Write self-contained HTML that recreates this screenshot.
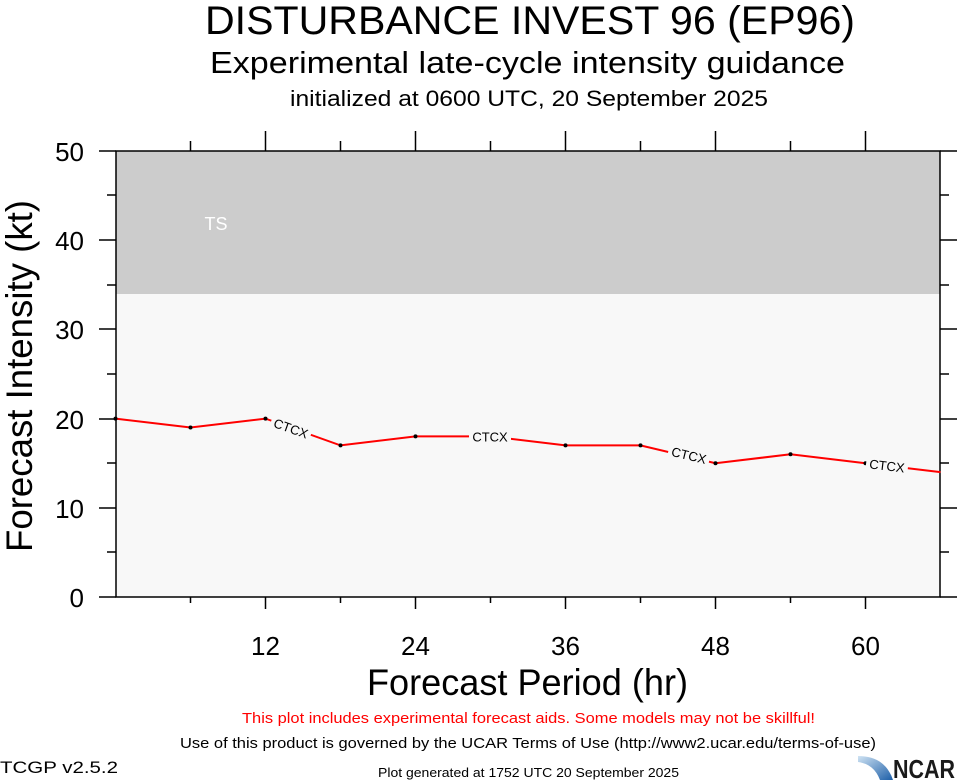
<!DOCTYPE html>
<html><head><style>body{margin:0;background:#fff}svg{display:block}</style></head><body>
<svg width="957" height="780" viewBox="0 0 957 780" xmlns="http://www.w3.org/2000/svg" font-family="Liberation Sans, Arial, sans-serif">
<text x="205" y="34" font-size="40" textLength="650" lengthAdjust="spacingAndGlyphs">DISTURBANCE INVEST 96 (EP96)</text>
<text x="210" y="73" font-size="31" textLength="635" lengthAdjust="spacingAndGlyphs">Experimental late-cycle intensity guidance</text>
<text x="290" y="106" font-size="22" textLength="478" lengthAdjust="spacingAndGlyphs">initialized at 0600 UTC, 20 September 2025</text>
<rect x="116" y="151" width="824" height="446" fill="#f8f8f8"/>
<rect x="116" y="151" width="824" height="143" fill="#cccccc"/>
<text x="216" y="230" font-size="18" fill="#fff" text-anchor="middle">TS</text>
<g stroke="#000" stroke-width="1.5" fill="none">
<rect x="116" y="151" width="824" height="446"/>
<path d="M99 597H116M99 508H116M99 419H116M99 329H116M99 240H116M99 151H116M107 552H116M107 463H116M107 374H116M107 285H116M107 195H116"/>
<path d="M940 597H957M940 508H957M940 419H957M940 329H957M940 240H957M940 151H957M940 552H949M940 463H949M940 374H949M940 285H949M940 195H949"/>
<path d="M265.5 597V609M415.5 597V609M565.5 597V609M715.5 597V609M865.5 597V609M190.5 597V603M340.5 597V603M490.5 597V603M640.5 597V603M790.5 597V603"/>
<path d="M265.5 151V131M415.5 151V131M565.5 151V131M715.5 151V131M865.5 151V131M190.5 151V141M340.5 151V141M490.5 151V141M640.5 151V141M790.5 151V141"/>
</g>
<g font-size="26" text-anchor="end">
<text x="84" y="607">0</text><text x="84" y="518">10</text><text x="84" y="429">20</text><text x="84" y="339">30</text><text x="84" y="250">40</text><text x="84" y="161">50</text>
</g>
<g font-size="26" text-anchor="middle">
<text x="265.5" y="655">12</text><text x="415.5" y="655">24</text><text x="565.5" y="655">36</text><text x="715.5" y="655">48</text><text x="865.5" y="655">60</text>
</g>
<text x="367" y="695" font-size="37" textLength="321" lengthAdjust="spacingAndGlyphs">Forecast Period (hr)</text>
<text transform="translate(32,552) rotate(-90)" font-size="37" textLength="352" lengthAdjust="spacingAndGlyphs">Forecast Intensity (kt)</text>
<polyline fill="none" stroke="#ff0000" stroke-width="2" points="115.5,418.6 190.5,427.5 265.5,418.6 340.5,445.4 415.5,436.4 490.5,436.4 565.5,445.4 640.5,445.4 715.5,463.2 790.5,454.3 865.5,463.2 940.5,472.1"/>
<g fill="#000">
<circle cx="115.5" cy="418.6" r="2"/><circle cx="190.5" cy="427.5" r="2"/><circle cx="265.5" cy="418.6" r="2"/><circle cx="340.5" cy="445.4" r="2"/><circle cx="415.5" cy="436.4" r="2"/><circle cx="490.5" cy="436.4" r="2"/><circle cx="565.5" cy="445.4" r="2"/><circle cx="640.5" cy="445.4" r="2"/><circle cx="715.5" cy="463.2" r="2"/><circle cx="790.5" cy="454.3" r="2"/><circle cx="865.5" cy="463.2" r="2"/>
</g>
<g font-size="13" text-anchor="middle">
<g transform="translate(291,428) rotate(19.7)"><rect x="-21" y="-7" width="42" height="14" fill="#f8f8f8"/><text y="5">CTCX</text></g>
<g transform="translate(490,436.4)"><rect x="-21" y="-7" width="42" height="14" fill="#f8f8f8"/><text y="5">CTCX</text></g>
<g transform="translate(689,455) rotate(13.4)"><rect x="-21" y="-7" width="42" height="14" fill="#f8f8f8"/><text y="5">CTCX</text></g>
<g transform="translate(887,465.5) rotate(6.8)"><rect x="-21" y="-7" width="42" height="14" fill="#f8f8f8"/><text y="5">CTCX</text></g>
</g>
<text x="242" y="723" font-size="15" fill="#ff0000" textLength="573" lengthAdjust="spacingAndGlyphs">This plot includes experimental forecast aids. Some models may not be skillful!</text>
<text x="180" y="748" font-size="15" textLength="696" lengthAdjust="spacingAndGlyphs">Use of this product is governed by the UCAR Terms of Use (http://www2.ucar.edu/terms-of-use)</text>
<text x="0" y="773" font-size="17" textLength="118" lengthAdjust="spacingAndGlyphs">TCGP v2.5.2</text>
<text x="378" y="777" font-size="13" textLength="301" lengthAdjust="spacingAndGlyphs">Plot generated at 1752 UTC   20 September 2025</text>
<defs><linearGradient id="g" x1="0" y1="0" x2="1" y2="1"><stop offset="0" stop-color="#cfe3f3"/><stop offset="1" stop-color="#1d5fa8"/></linearGradient></defs>
<path d="M858 756 Q885 756 893 780 L880 780 Q874 764 858 762Z" fill="url(#g)"/>
<text x="893" y="778" font-size="26" font-weight="bold" fill="#1a1a1a" textLength="62" lengthAdjust="spacingAndGlyphs">NCAR</text>
</svg>
</body></html>
